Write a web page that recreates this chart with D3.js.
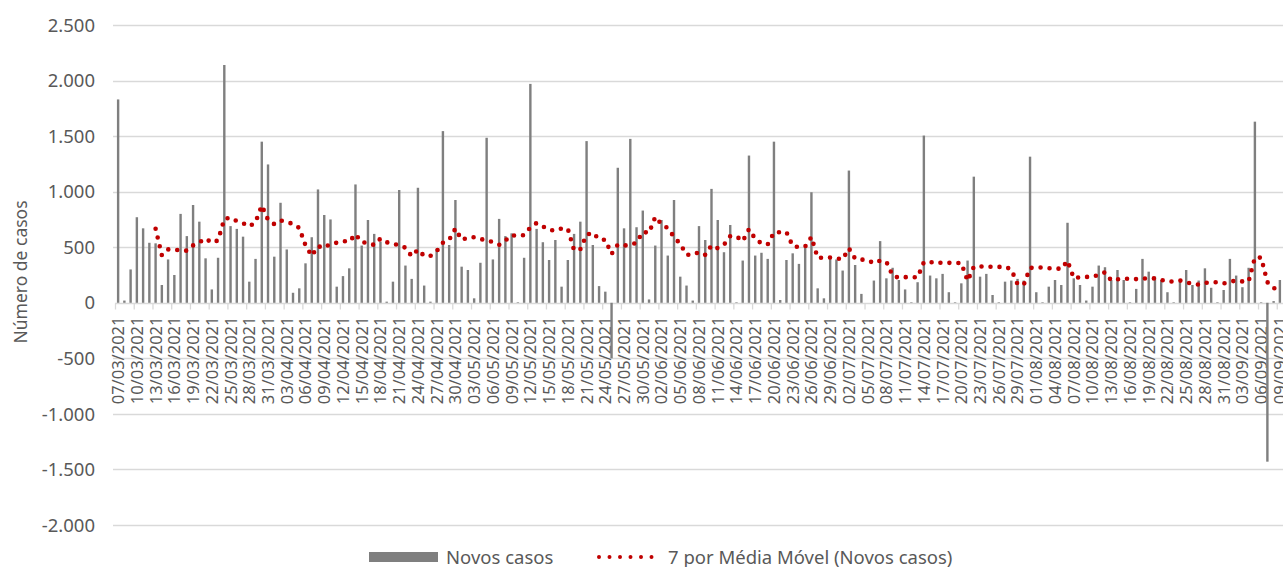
<!DOCTYPE html>
<meta charset="utf-8">
<style>

body {
  margin: 0;
  background: #fff;
}

text {
  font-family: "Noto Sans", sans-serif;
  fill: #595959;
}

</style>
<svg width="1283" height="567"></svg>
<script src="https://d3js.org/d3.v7.min.js"></script>
<script>

// first day of the series, one bar per day after that
let startDate = new Date(2021, 2, 7);

// daily new cases
let novosCasos = [
  1830, 20, 300, 770, 670, 540, 535, 160, 390, 250, 800, 600, 880, 730, 400, 120,
  405, 2140, 690, 665, 595, 190, 395, 1450, 1245, 415, 900, 480, 90, 130, 355,
  590, 1020, 790, 750, 145, 240, 310, 1065, 515, 745, 620, 550, 10, 190, 1015,
  335, 215, 1035, 155, 10, 485, 1545, 520, 925, 325, 295, 40, 360, 1485, 390, 755,
  600, 625, 5, 405, 1970, 665, 545, 385, 565, 145, 385, 620, 730, 1455, 520, 150,
  100, -500, 1215, 670, 1475, 680, 830, 30, 515, 745, 425, 925, 235, 155,
  20, 690, 565, 1025, 745, 455, 700, 5, 380, 1325, 425, 450, 395, 1450, 25, 385,
  445, 350, 495, 995, 130, 40, 395, 390, 290, 1190, 340, 80, 0, 200,
  555, 220, 315, 205, 120, 5, 185, 1505, 245, 220, 260, 95, 5, 175, 380, 1135,
  235, 260, 70, 5, 190, 200, 215, 200, 1315, 95, 5, 145, 205, 160, 720,
  220, 160, 20, 145, 335, 320, 205, 295, 205, 5, 125, 395, 280, 235, 205, 95, 5,
  190, 295, 160, 200, 310, 135, 5, 115, 395, 245, 140, 315, 1630, 5, -1430, 15, 205
];

let yTicks = [-2000, -1500, -1000, -500, 0, 500, 1000, 1500, 2000, 2500];
let labelEvery = 3;
let maPeriod = 7;

let seriesName = 'Novos casos';
let trendName = '7 por Média Móvel (Novos casos)';
let yTitle = 'Número de casos';

let dates = novosCasos.map((d, i) => d3.timeDay.offset(startDate, i));
let fmtDate = d3.timeFormat('%d/%m/%Y');
let ptBR = d3.formatLocale({decimal: ',', thousands: '.', grouping: [3], currency: ['R$', ''], minus: '-'});
let fmtNum = ptBR.format(',d');

// moving average (Excel trendline: mean of the last 7 days)
let movingAvg = [];
novosCasos.forEach((d, i) => {
  if (i >= maPeriod - 1) {
    movingAvg.push({i: i, v: d3.mean(novosCasos.slice(i - maPeriod + 1, i + 1))});
  }
});

let svg = d3.select('svg');
let plot = {left: 115, right: 1283, top: 25, bottom: 525};

let x = d3.scaleBand()
    .domain(d3.range(novosCasos.length))
    .range([plot.left, plot.right])
    .padding(0);

let y = d3.scaleLinear()
    .domain([d3.min(yTicks), d3.max(yTicks)])
    .range([plot.bottom, plot.top]);

let cx = i => x(i) + x.bandwidth() / 2;

// gridlines
svg.append('g')
  .selectAll('line')
  .data(yTicks.filter(d => d !== 0))
  .join('line')
    .attr('x1', plot.left - 2)
    .attr('x2', plot.right)
    .attr('y1', d => Math.round(y(d)) + 0.5)
    .attr('y2', d => Math.round(y(d)) + 0.5)
    .attr('stroke', '#d9d9d9')
    .attr('stroke-width', 1.3);

// y tick labels
svg.append('g')
  .selectAll('text')
  .data(yTicks)
  .join('text')
    .attr('x', 95)
    .attr('y', d => y(d))
    .attr('dy', '0.36em')
    .attr('text-anchor', 'end')
    .style('font-size', '18.5px')
    .text(d => fmtNum(d));

// y title
svg.append('text')
    .attr('transform', 'translate(27,272) rotate(-90)')
    .attr('text-anchor', 'middle')
    .style('font-size', '17.5px')
    .text(yTitle);

// category axis line and tick marks between categories
let y0 = Math.round(y(0)) + 0.5;
svg.append('line')
    .attr('x1', plot.left)
    .attr('x2', plot.right)
    .attr('y1', y0)
    .attr('y2', y0)
    .attr('stroke', '#d9d9d9')
    .attr('stroke-width', 1.3);

let tickIdx = d3.range(0, novosCasos.length + 1, labelEvery);
svg.append('g')
  .selectAll('line')
  .data(tickIdx)
  .join('line')
    .attr('x1', d => (d < novosCasos.length ? x(d) : plot.right) + 0.5)
    .attr('x2', d => (d < novosCasos.length ? x(d) : plot.right) + 0.5)
    .attr('y1', y0)
    .attr('y2', y0 + 6)
    .attr('stroke', '#d9d9d9')
    .attr('stroke-width', 1.3);

// date labels
svg.append('g')
  .selectAll('text')
  .data(d3.range(0, novosCasos.length, labelEvery))
  .join('text')
    .attr('transform', d => 'translate(' + cx(d) + ',' + (y0 + 13) + ') rotate(-90)')
    .attr('text-anchor', 'end')
    .attr('dy', '0.36em')
    .style('font-size', '16.5px')
    .text(d => fmtDate(dates[d]));

// bars
svg.append('g')
  .selectAll('rect')
  .data(novosCasos)
  .join('rect')
    .attr('x', (d, i) => cx(i) - 1.2)
    .attr('width', 2.4)
    .attr('y', d => y(Math.max(0, d)))
    .attr('height', d => Math.abs(y(d) - y(0)))
    .attr('fill', '#7f7f7f');

// moving average, dotted
let line = d3.line()
    .x(d => cx(d.i))
    .y(d => y(d.v));

svg.append('path')
    .datum(movingAvg)
    .attr('d', line)
    .attr('fill', 'none')
    .attr('stroke', '#c00000')
    .attr('stroke-width', 4.6)
    .attr('stroke-linecap', 'round')
    .attr('stroke-dasharray', '0 9');

// legend
let lg = svg.append('g');
lg.append('rect')
    .attr('x', 369)
    .attr('y', 552)
    .attr('width', 69)
    .attr('height', 10)
    .attr('fill', '#7f7f7f');
lg.append('text')
    .attr('x', 446)
    .attr('y', 557)
    .attr('dy', '0.36em')
    .style('font-size', '18.5px')
    .text(seriesName);
lg.append('line')
    .attr('x1', 599)
    .attr('x2', 662)
    .attr('y1', 557)
    .attr('y2', 557)
    .attr('stroke', '#c00000')
    .attr('stroke-width', 4)
    .attr('stroke-linecap', 'round')
    .attr('stroke-dasharray', '0 10.5');
lg.append('text')
    .attr('x', 668)
    .attr('y', 557)
    .attr('dy', '0.36em')
    .style('font-size', '18.5px')
    .text(trendName);

</script>
